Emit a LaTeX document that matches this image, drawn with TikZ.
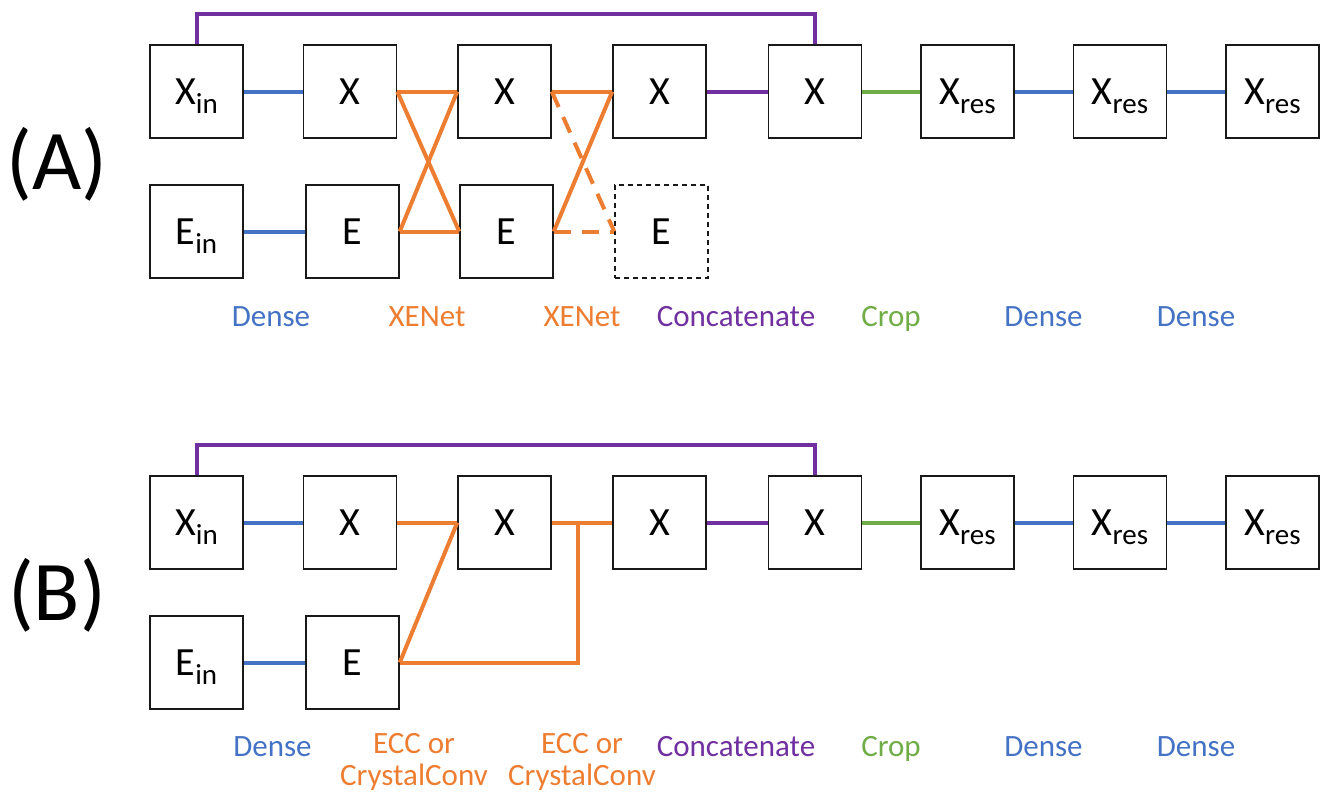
\documentclass[tikz,border=0pt]{standalone}
\usepackage{fontspec}
\setmainfont{Carlito}
\definecolor{cblue}{HTML}{4472C4}
\definecolor{corange}{HTML}{ED7D31}
\definecolor{cpurple}{HTML}{7030A0}
\definecolor{cgreen}{HTML}{70AD47}
\newcommand\boxsub[1]{\raisebox{-9pt}{\fontsize{29}{29}\selectfont #1}}
\begin{document}
\begin{tikzpicture}[x=1pt,y=-1pt,
  box/.style={draw=black!90, line width=1.5pt, minimum width=93pt, minimum height=93pt,
    inner sep=0pt, text height=25.3pt, text depth=0pt, font=\fontsize{40}{40}\selectfont},
  dbox/.style={box, dash pattern=on 5pt off 4pt},
  lab/.style={font=\fontsize{31}{33}\selectfont, text height=19.6pt, text depth=0pt, inner sep=0pt},
  lab2/.style={font=\fontsize{31}{32}\selectfont, inner sep=0pt, align=center, anchor=north},
  panel/.style={font=\fontsize{85}{85}\selectfont, text height=53.7pt, text depth=0pt, inner sep=0pt},
  conn/.style={line width=4pt},
  bl/.style={conn, cblue},
  orr/.style={conn, corange},
  ordash/.style={conn, corange, dash pattern=on 17pt off 11pt},
  pu/.style={conn, cpurple},
  gr/.style={conn, cgreen}]
\useasboundingbox (0,0) rectangle (1324,793);

% ---------- Panel A ----------
\node[panel] (pa) at (57,162.5) {(A)};
\coordinate (topA) at (0,14);
\node[box] (xa1) at (196.5,91.5) {X\boxsub{in}};
\node[box] (xa2) at (350,91.5) {X};
\node[box] (xa3) at (504.5,91.5) {X};
\node[box] (xa4) at (659.5,91.5) {X};
\node[box] (xa5) at (815,91.5) {X};
\node[box] (xa6) at (967.5,91.5) {X\boxsub{res}};
\node[box] (xa7) at (1120,91.5) {X\boxsub{res}};
\node[box] (xa8) at (1272.5,91.5) {X\boxsub{res}};
\node[box] (ea1) at (196.5,231.5) {E\boxsub{in}};
\node[box] (ea2) at (352.5,231.5) {E};
\node[box] (ea3) at (506.5,231.5) {E};
\node[dbox] (ead) at (661.5,231.5) {E};

\draw[pu] (xa1.north) -- (xa1.north |- topA) -| (xa5.north);
\draw[bl] (xa1.east) -- (xa2.west);
\draw[bl] (ea1.east) -- (ea2.west);
\draw[orr] (xa2.east) -- (xa3.west);
\draw[orr] (xa2.east) -- (ea3.west);
\draw[orr] (ea2.east) -- (xa3.west);
\draw[orr] (ea2.east) -- (ea3.west);
\draw[orr] (xa3.east) -- (xa4.west);
\draw[orr] (ea3.east) -- (xa4.west);
\draw[ordash] (xa3.east) -- (ead.west);
\draw[ordash] (ea3.east) -- (ead.west);
\draw[pu] (xa4.east) -- (xa5.west);
\draw[gr] (xa5.east) -- (xa6.west);
\draw[bl] (xa6.east) -- (xa7.west);
\draw[bl] (xa7.east) -- (xa8.west);

\node[lab, text=cblue] (la1) at (271,317) {Dense};
\node[lab, text=corange] (la2) at (427,317) {XENet};
\node[lab, text=corange] (la3) at (582,317) {XENet};
\node[lab, text=cpurple] (la4) at (736,317) {Concatenate};
\node[lab, text=cgreen] (la5) at (891,317) {Crop};
\node[lab, text=cblue] (la6) at (1043.5,317) {Dense};
\node[lab, text=cblue] (la7) at (1196,317) {Dense};

% ---------- Panel B ----------
\node[panel] (pb) at (57,594) {(B)};
\coordinate (topB) at (0,445);
\coordinate (jB) at (578,522.5);
\node[box] (xb1) at (196.5,522.5) {X\boxsub{in}};
\node[box] (xb2) at (350,522.5) {X};
\node[box] (xb3) at (504.5,522.5) {X};
\node[box] (xb4) at (659.5,522.5) {X};
\node[box] (xb5) at (815,522.5) {X};
\node[box] (xb6) at (967.5,522.5) {X\boxsub{res}};
\node[box] (xb7) at (1120,522.5) {X\boxsub{res}};
\node[box] (xb8) at (1272.5,522.5) {X\boxsub{res}};
\node[box] (eb1) at (196.5,662.5) {E\boxsub{in}};
\node[box] (eb2) at (352.5,662.5) {E};

\draw[pu] (xb1.north) -- (xb1.north |- topB) -| (xb5.north);
\draw[bl] (xb1.east) -- (xb2.west);
\draw[bl] (eb1.east) -- (eb2.west);
\draw[orr] (xb2.east) -- (xb3.west);
\draw[orr] (eb2.east) -- (xb3.west);
\draw[orr] (xb3.east) -- (xb4.west);
\draw[orr] (eb2.east) -| (jB);
\draw[pu] (xb4.east) -- (xb5.west);
\draw[gr] (xb5.east) -- (xb6.west);
\draw[bl] (xb6.east) -- (xb7.west);
\draw[bl] (xb7.east) -- (xb8.west);

\node[lab, text=cblue] (lb1) at (272.5,747) {Dense};
\node[lab2, text=corange] (lb2) at (414,733) {ECC or\\CrystalConv};
\node[lab2, text=corange] (lb3) at (582,733) {ECC or\\CrystalConv};
\node[lab, text=cpurple] (lb4) at (736,747) {Concatenate};
\node[lab, text=cgreen] (lb5) at (891,747) {Crop};
\node[lab, text=cblue] (lb6) at (1043.5,747) {Dense};
\node[lab, text=cblue] (lb7) at (1196,747) {Dense};
\end{tikzpicture}
\end{document}
